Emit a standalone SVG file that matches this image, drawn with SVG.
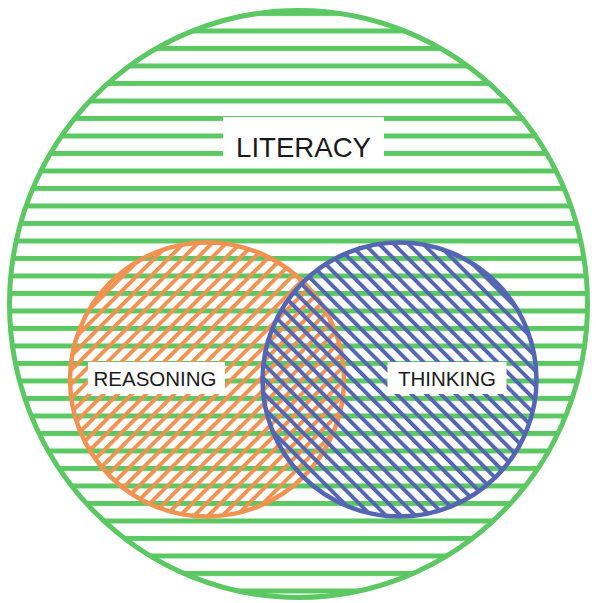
<svg xmlns="http://www.w3.org/2000/svg" width="596" height="603" viewBox="0 0 596 603">
<style>
.lbl{fill:#ffffff;stroke:none}
.txt{font-family:"Liberation Sans",Arial,sans-serif;fill:#1a1a1a;text-anchor:middle}
</style>
<defs>
<pattern id="hGreen" patternUnits="userSpaceOnUse" x="0" y="28.5" width="20" height="17.5">
<rect x="0" y="0" width="20" height="5" fill="#5cc863"/>
</pattern>
<pattern id="hOrange" patternUnits="userSpaceOnUse" x="0" y="0" width="10" height="20" patternTransform="rotate(45)">
<rect x="0" y="0" width="3.9" height="20" fill="#f29250"/>
</pattern>
<pattern id="hBlue" patternUnits="userSpaceOnUse" x="0" y="0" width="10.4" height="20" patternTransform="rotate(-45)">
<rect x="0" y="0" width="3.9" height="20" fill="#5466b3"/>
</pattern>
</defs>
<rect x="0" y="0" width="596" height="603" fill="#ffffff"/>
<g id="literacy">
<ellipse cx="298.5" cy="304" rx="289" ry="293.5" fill="url(#hGreen)" stroke="#5cc863" stroke-width="5"/>
<rect class="lbl" x="223" y="117" width="161" height="50"/>
<text class="txt" x="303.5" y="157" font-size="27.6">LITERACY</text>
</g>
<g id="reasoning">
<circle cx="207" cy="379.5" r="137" fill="url(#hOrange)" stroke="#f29250" stroke-width="4.5"/>
<rect class="lbl" x="88" y="362" width="137" height="32"/>
<text class="txt" x="155" y="385.5" font-size="20.5">REASONING</text>
</g>
<g id="thinking">
<circle cx="399.5" cy="379.5" r="137" fill="url(#hBlue)" stroke="#5466b3" stroke-width="4.5"/>
<rect class="lbl" x="387.5" y="362" width="119" height="32"/>
<text class="txt" x="447" y="385.5" font-size="20.5">THINKING</text>
</g>
<g id="connectors"/>
</svg>
